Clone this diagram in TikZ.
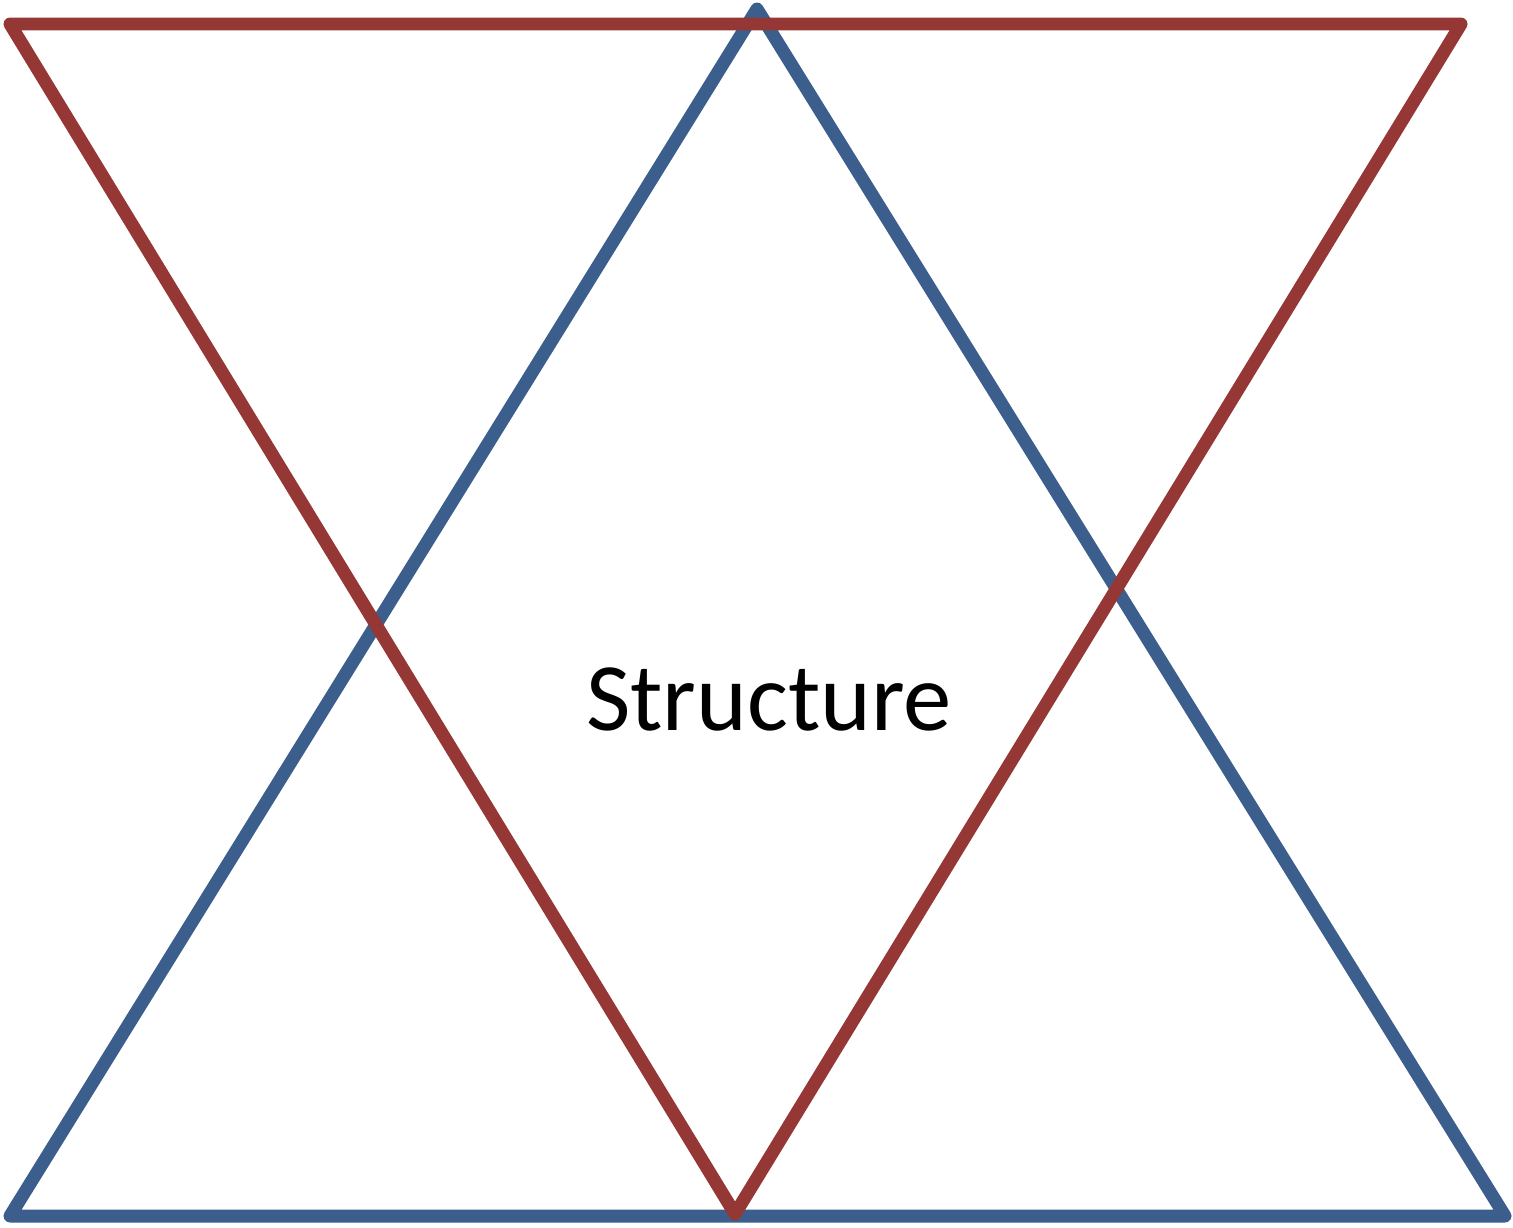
\documentclass[tikz,border=0pt]{standalone}
\usepackage{fontspec}
\setmainfont{Carlito}
\usepackage{xcolor}
\definecolor{edgeblue}{HTML}{3B5E8C}
\definecolor{edgered}{HTML}{953735}

\begin{document}
\begin{tikzpicture}[
        x=0.02cm, y=-0.02cm,
        tri/.style={line width=0.26cm, line join=round, line cap=round},
        upper/.style={tri, draw=edgeblue},
        lower/.style={tri, draw=edgered},
        label/.style={font=\fontsize{55}{63}\selectfont, text=black}
    ]
        % Frame
        \useasboundingbox (0,0) rectangle (1513,1227);

        % Corners
        \coordinate (b1) at (757,9);
        \coordinate (b2) at (10,1216);
        \coordinate (b3) at (1505,1216);
        \coordinate (r1) at (10,24);
        \coordinate (r2) at (1461,24);
        \coordinate (r3) at (735,1214);

        % Triangles
        \draw[upper] (b1) -- (b2) -- (b3) -- cycle;
        \draw[lower] (r1) -- (r2) -- (r3) -- cycle;

        % Text
        \node[label] (title) at (769,699) {Structure};
    \end{tikzpicture}
\end{document}
